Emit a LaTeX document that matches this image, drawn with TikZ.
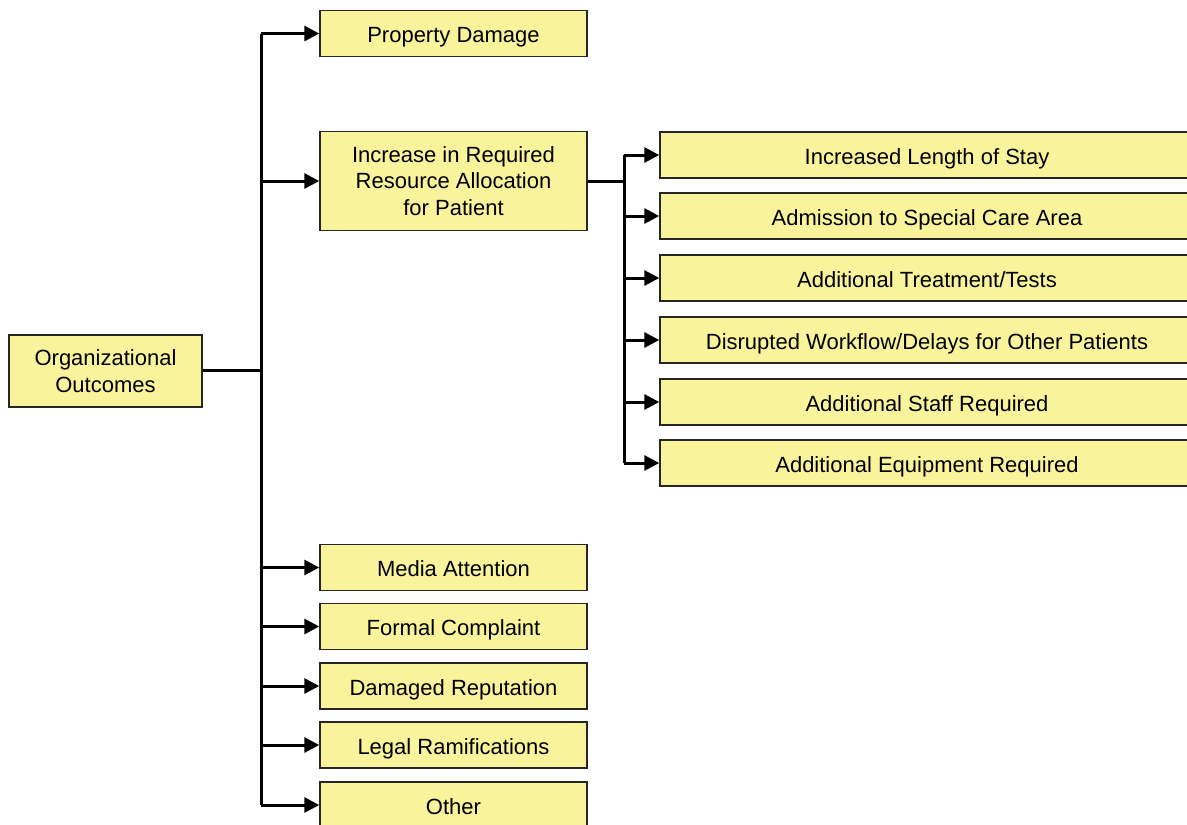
\documentclass[tikz,border=0pt]{standalone}
\usepackage{fontspec}
\setmainfont{Liberation Sans}
\usetikzlibrary{arrows.meta}
\definecolor{boxyellow}{RGB}{249,244,155}

\begin{document}
\begin{tikzpicture}[
        x=1pt,
        y=-1pt,
        font=\fontsize{22}{26.5}\selectfont,
        box/.style={draw=black!85, line width=1.5pt, fill=boxyellow, align=center, inner sep=0pt},
        lbox/.style={box, minimum width=267pt, minimum height=46pt, text height=18pt, text depth=0pt},
        rbox/.style={box, minimum width=534pt, minimum height=46pt, text height=18pt, text depth=0pt},
        link/.style={line width=3pt},
        arr/.style={link, -{Triangle[length=15pt,width=15pt]}}
    ]
        \useasboundingbox (0,0) rectangle (1187,825);
        \clip (0,0) rectangle (1187,825);

        \node[box, minimum width=193pt, minimum height=72pt] (org) at (105.5,371) {Organizational\\Outcomes};

        \node[lbox] (prop) at (453.5,33.5) {Property Damage};
        \node[box, minimum width=267pt, minimum height=99pt] (incr) at (453.5,181) {Increase in Required\\Resource Allocation\\for Patient};
        \node[lbox] (media) at (453.5,567.5) {Media Attention};
        \node[lbox] (compl) at (453.5,626.5) {Formal Complaint};
        \node[lbox] (repu) at (453.5,686) {Damaged Reputation};
        \node[lbox] (legal) at (453.5,745) {Legal Ramifications};
        \node[lbox] (other) at (453.5,805) {Other};

        \node[rbox] (stay) at (927,155) {Increased Length of Stay};
        \node[rbox] (care) at (927,216) {Admission to Special Care Area};
        \node[rbox] (tests) at (927,278) {Additional Treatment/Tests};
        \node[rbox] (delay) at (927,340) {Disrupted Workflow/Delays for Other Patients};
        \node[rbox] (staff) at (927,402) {Additional Staff Required};
        \node[rbox] (equip) at (927,463) {Additional Equipment Required};

        % main tree
        \coordinate (trunk) at (261,370);
        \draw[link] (org.east |- trunk) -- (trunk);
        \draw[link] (trunk |- prop) -- (trunk |- other);
        \foreach \n in {prop,incr,media,compl,repu,legal,other}
            \draw[arr] (trunk |- \n) -- (\n);

        % resource branch
        \coordinate (sub) at (624,181);
        \draw[link] (incr) -- (sub);
        \draw[link] (sub |- stay) -- (sub |- equip);
        \foreach \n in {stay,care,tests,delay,staff,equip}
            \draw[arr] (sub |- \n) -- (\n);
    \end{tikzpicture}
\end{document}
